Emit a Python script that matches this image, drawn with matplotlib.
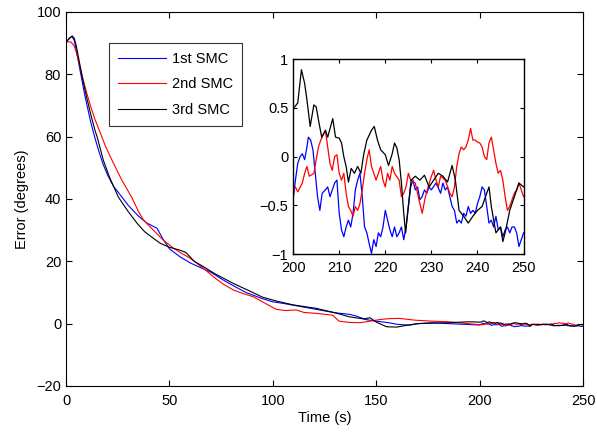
import matplotlib
matplotlib.use("Agg")
import matplotlib.pyplot as plt

plt.rcParams['font.family'] = ['Liberation Sans', 'DejaVu Sans']

# ---- main plot data (0-200 s) ----
blue_main_t = [0, 1, 2, 3, 4, 5, 6, 7, 8, 9, 10, 11, 12, 13, 14, 16, 18, 20, 23, 26, 30, 35, 39, 42, 44, 47, 50, 55, 60, 65, 70, 76, 80, 87, 95, 100, 105, 110, 121, 130, 137, 140, 145, 150, 156, 160, 166, 170, 177, 185, 195]
blue_main_v = [90.3, 91, 91.8, 92, 90.8, 87.5, 84, 80.5, 77, 73.5, 70.5, 67.5, 64.5, 62, 59.5, 55, 51, 47.8, 44, 41.5, 38, 34.5, 32.3, 31.3, 30.6, 27, 24, 21.5, 19.5, 18, 16.5, 14, 12.5, 10, 8, 7, 6.5, 5.9, 4.6, 3.5, 3, 2.5, 1.3, 0.8, 0.3, -0.2, -0.5, 0, 0.3, 0, -0.3]

red_main_t = [0, 1, 2.5, 4, 5, 6, 8, 10, 12, 14, 16.4, 19, 22.9, 27, 31.8, 35, 37.4, 40, 43, 47, 52, 56, 60, 66, 71.3, 76, 80.9, 85, 90.6, 95, 101.6, 106, 111.3, 115, 121, 129, 132, 137, 142, 147, 151.6, 156, 161, 169, 177, 185, 193]
red_main_v = [90.3, 90.4, 90.3, 89, 87, 84.5, 79, 74, 69.5, 65.5, 61.5, 57, 51.5, 46, 40.5, 36, 33.3, 31.5, 29.5, 26.8, 24.2, 22.5, 21, 18, 15, 12.7, 10.8, 9.8, 8.6, 7, 4.6, 4.2, 4.4, 3.6, 3.3, 2.7, 0.8, 0.4, 0.3, 0.8, 1.3, 1.6, 1.7, 1.1, 0.8, 0.6, 0.1]

black_main_t = [0, 1.5, 3, 4, 5, 6, 7, 8, 9, 10, 12, 14, 15, 18, 21, 25.3, 30, 34.6, 38, 42, 45.5, 50, 55, 58, 62, 66.4, 72, 80.9, 88.7, 95, 102, 110, 118, 121, 130, 137, 144, 147, 150, 155, 160, 165, 170, 180, 185, 195]
black_main_v = [90.3, 91.5, 92.3, 91.5, 89, 85.5, 82, 78.5, 75.5, 72.5, 67, 62, 60, 52.5, 47, 40.6, 36, 32, 29.5, 27.5, 25.8, 24.5, 23.6, 22.8, 20, 18.3, 16, 12.9, 10.5, 8.5, 7.2, 6, 5.2, 4.9, 3.5, 2.2, 1.5, 1.9, 0.5, -1, -1.1, -0.5, 0, 0.2, 0.3, 0.6]

# ---- zoomed data (200-250 s) ----
blue_zoom_t = [200, 200.5, 201, 201.5, 202, 202.5, 203, 203.3, 203.8, 204.3, 204.8, 205.3, 205.8, 206.3, 207, 207.5, 208, 208.5, 209, 209.5,
               210, 210.5, 211, 211.5, 212, 212.5, 213, 213.5, 214, 214.5, 215, 215.5, 216, 216.5, 217, 217.5, 218, 218.5, 219, 219.5,
               220, 220.5, 221, 221.5, 222, 222.5, 223, 223.5, 224, 224.5, 225, 225.5, 226, 226.5, 227, 227.5, 228, 228.5, 229, 229.5,
               230, 231, 231.5, 232, 232.5, 233, 233.5, 234, 234.5, 235, 235.5, 236, 236.5, 237, 237.5, 238, 238.5, 239, 239.5,
               240, 240.5, 241, 241.5, 242, 242.5, 243, 243.5, 244, 244.5, 245, 245.5, 246, 246.5, 247, 247.5, 248, 248.5, 249, 249.5, 250]
blue_zoom_v = [-0.44, -0.24, -0.07, 0, 0.03, -0.03, 0.1, 0.2, 0.17, 0.07, -0.17, -0.41, -0.55, -0.375, -0.34, -0.31, -0.41, -0.34, -0.27, -0.24,
               -0.58, -0.75, -0.82, -0.72, -0.65, -0.72, -0.58, -0.34, -0.24, -0.17, -0.41, -0.72, -0.78, -0.89, -0.99, -0.85, -0.92, -0.78, -0.82, -0.72,
               -0.55, -0.65, -0.75, -0.82, -0.72, -0.82, -0.78, -0.72, -0.85, -0.72, -0.51, -0.31, -0.24, -0.34, -0.31, -0.44, -0.41, -0.34, -0.375, -0.31,
               -0.34, -0.27, -0.32, -0.375, -0.27, -0.34, -0.31, -0.41, -0.51, -0.55, -0.68, -0.65, -0.68, -0.58, -0.61, -0.51, -0.58, -0.55, -0.58,
               -0.48, -0.41, -0.31, -0.34, -0.51, -0.68, -0.65, -0.72, -0.61, -0.75, -0.72, -0.82, -0.75, -0.72, -0.78, -0.72, -0.72, -0.78, -0.92, -0.85, -0.78]

red_zoom_t = [200, 200.5, 201, 202, 202.5, 203, 203.5, 204.5, 205, 205.5, 206, 207, 207.5, 208, 208.5, 209, 209.5,
              210, 210.5, 211, 211.5, 212, 212.5, 213, 213.5, 214, 214.5, 215, 215.5, 216, 216.5, 217, 217.5, 218, 218.5, 219, 219.5,
              220, 220.5, 221, 221.5, 222, 223, 223.5, 224, 224.5, 225, 225.5, 226.5, 227.3, 228, 228.7, 229.3,
              230, 230.5, 231, 231.5, 232, 233, 234, 234.5, 235, 235.5, 236, 236.5, 237, 237.5, 238, 238.5, 239, 239.5,
              240, 240.5, 241, 241.5, 242, 242.5, 243, 243.5, 244, 244.5, 245, 245.5, 246, 246.5, 247, 247.5, 248, 248.5, 249, 249.5, 250]
red_zoom_v = [-0.34, -0.31, -0.36, -0.27, -0.17, -0.1, -0.2, -0.17, -0.03, 0.1, 0.17, 0.27, 0.1, -0.07, -0.14, 0, 0.02,
              -0.17, -0.24, -0.17, -0.375, -0.51, -0.55, -0.61, -0.51, -0.55, -0.48, -0.34, -0.17, -0.03, 0.07, -0.1, -0.17, -0.24, -0.17, -0.1, -0.24,
              -0.31, -0.17, -0.24, -0.1, -0.17, -0.24, -0.41, -0.375, -0.31, -0.17, -0.24, -0.27, -0.44, -0.58, -0.41, -0.31,
              -0.2, -0.14, -0.24, -0.31, -0.2, -0.24, -0.375, -0.41, -0.31, -0.1, 0.03, 0.1, 0.07, 0.1, 0.17, 0.29, 0.17, 0.17,
              0.15, 0.14, 0.1, 0, -0.03, 0.14, 0.2, 0.07, -0.07, -0.17, -0.14, -0.24, -0.41, -0.55, -0.51, -0.44, -0.375, -0.34, -0.27, -0.34, -0.41]

black_zoom_t = [200, 201, 201.8, 202.5, 203, 203.7, 204.5, 205, 205.5, 206.2, 207, 207.5, 208.6, 209.2,
                210, 210.5, 211, 211.5, 212, 212.6, 213.3, 214, 214.7, 215.3, 216, 217, 217.6, 218.3, 219,
                220, 220.7, 221.5, 222, 222.5, 223, 223.5, 224, 224.4, 225, 225.6, 226.5, 227.5, 228.5, 229.5,
                230.5, 231.5, 232.5, 233.5, 234.5, 235.2, 236, 237, 238, 239,
                240, 241, 242, 242.5, 243, 244, 245, 245.5, 246, 247, 248, 249, 250]
black_zoom_v = [0.49, 0.55, 0.89, 0.75, 0.58, 0.31, 0.53, 0.51, 0.375, 0.2, 0.27, 0.2, 0.39, 0.2,
                0.19, 0.14, 0, -0.1, -0.26, -0.12, -0.17, -0.1, -0.17, 0.02, 0.17, 0.27, 0.31, 0.17, 0.07,
                0.02, -0.09, 0.03, 0.14, 0.09, -0.03, -0.27, -0.58, -0.78, -0.51, -0.24, -0.2, -0.24, -0.19, -0.31,
                -0.24, -0.17, -0.2, -0.26, -0.09, -0.24, -0.55, -0.61, -0.68, -0.61,
                -0.55, -0.51, -0.375, -0.31, -0.51, -0.78, -0.72, -0.87, -0.78, -0.55, -0.41, -0.27, -0.31]

labels = ['1st SMC', '2nd SMC', '3rd SMC']
colors = ['#0000ff', '#ff0000', '#000000']

main_x_ticks = [0, 50, 100, 150, 200, 250]
main_y_ticks = [-20, 0, 20, 40, 60, 80, 100]
zoom_x_ticks = [200, 210, 220, 230, 240, 250]
zoom_y_ticks = [-1, -0.5, 0, 0.5, 1]

FS = 10.5

fig = plt.figure(figsize=(5.97, 4.34), dpi=100)
ax = fig.add_axes([0.1106, 0.1106, 0.866, 0.862])

series = [
    (blue_main_t + blue_zoom_t, blue_main_v + blue_zoom_v),
    (red_main_t + red_zoom_t, red_main_v + red_zoom_v),
    (black_main_t + black_zoom_t, black_main_v + black_zoom_v),
]
for (t, v), c, lab in zip(series, colors, labels):
    ax.plot(t, v, color=c, lw=0.8, label=lab)

ax.set_xlim(0, 250)
ax.set_ylim(-20, 100)
ax.set_xticks(main_x_ticks)
ax.set_yticks(main_y_ticks)
ax.set_yticklabels(['\u221220', '0', '20', '40', '60', '80', '100'])
ax.tick_params(direction='in', top=True, right=True, labelsize=FS, length=4, width=0.8)
ax.tick_params(axis='x', pad=6)
for s in ax.spines.values():
    s.set_linewidth(0.8)
ax.set_xlabel('Time (s)', fontsize=FS, labelpad=2)
ax.set_ylabel('Error (degrees)', fontsize=FS, labelpad=5)

leg = ax.legend(loc='upper left', bbox_to_anchor=(0.083, 0.917), fontsize=FS,
                frameon=True, fancybox=False, edgecolor='black', handlelength=3.3,
                borderpad=0.6, labelspacing=0.8, handletextpad=0.4, borderaxespad=0)
leg.get_frame().set_linewidth(0.8)

axi = fig.add_axes([0.491, 0.414, 0.386, 0.45])
axi.plot(blue_zoom_t, blue_zoom_v, color=colors[0], lw=0.9)
axi.plot(red_zoom_t, red_zoom_v, color=colors[1], lw=0.9)
axi.plot(black_zoom_t, black_zoom_v, color=colors[2], lw=0.9)
axi.set_xlim(200, 250)
axi.set_ylim(-1, 1)
axi.set_xticks(zoom_x_ticks)
axi.set_yticks(zoom_y_ticks)
axi.set_yticklabels(['\u22121', '\u22120.5', '0', '0.5', '1'])
axi.tick_params(direction='in', top=True, right=True, labelsize=FS, length=3, width=0.8)
axi.tick_params(axis='x', pad=5)
for s in axi.spines.values():
    s.set_linewidth(1.0)

fig.savefig('out.png', dpi=100)
